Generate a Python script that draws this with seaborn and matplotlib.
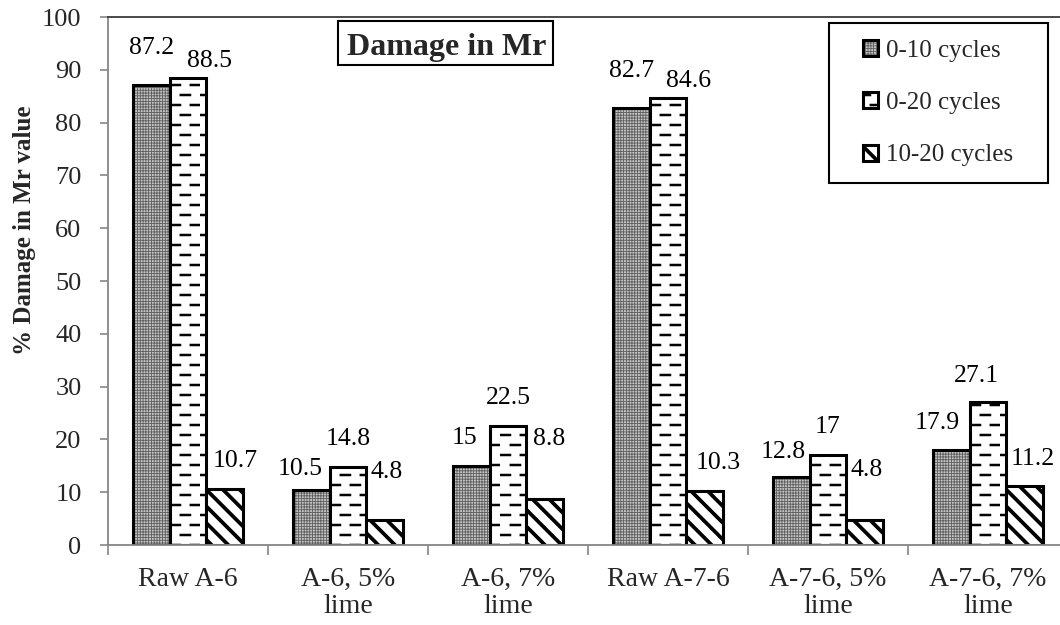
import warnings
import numpy as np
import pandas as pd
import matplotlib
matplotlib.use("Agg")
import matplotlib.pyplot as plt
from matplotlib import hatch as mhatch
from matplotlib.path import Path
from matplotlib.patches import Patch, Rectangle
from matplotlib.colors import to_rgba
import seaborn as sns

# ---- data ---------------------------------------------------------------
samples = ["Raw A-6", "A-6, 5%\nlime", "A-6, 7%\nlime",
           "Raw A-7-6", "A-7-6, 5%\nlime", "A-7-6, 7%\nlime"]
intervals = ["0-10 cycles", "0-20 cycles", "10-20 cycles"]
damage_0_10 = [87.2, 10.5, 15.0, 82.7, 12.8, 17.9]
damage_0_20 = [88.5, 14.8, 22.5, 84.6, 17.0, 27.1]
damage_10_20 = [10.7, 4.8, 8.8, 10.3, 4.8, 11.2]
value_text = {
    "0-10 cycles": ["87.2", "10.5", "15", "82.7", "12.8", "17.9"],
    "0-20 cycles": ["88.5", "14.8", "22.5", "84.6", "17", "27.1"],
    "10-20 cycles": ["10.7", "4.8", "8.8", "10.3", "4.8", "11.2"],
}
y_ticks = list(range(0, 101, 10))

# label placement: (dx, dy) in pixels of the label centre from the bar top
label_offsets = {
    "0-10 cycles": [(0, 37), (-11, 21), (-7, 28), (0, 37), (-8, 25), (-14, 27)],
    "0-20 cycles": [(21, 17), (0, 28), (0, 28), (21, 17), (0, 28), (-12, 26)],
    "10-20 cycles": [(10, 28), (2, 48), (4, 60), (13, 28), (2, 50), (8, 27)],
}

df = pd.DataFrame({
    "sample": samples * 3,
    "interval": [intervals[0]] * 6 + [intervals[1]] * 6 + [intervals[2]] * 6,
    "damage": damage_0_10 + damage_0_20 + damage_10_20,
})


# ---- staggered-dash hatch ('_') -----------------------------------------
class DashHatch(mhatch.HatchPatternBase):
    per_row = 5

    def __init__(self, hatch, density):
        self.num_rows = hatch.count("_") * 5
        self.num_vertices = self.num_rows * self.per_row * 2

    def set_vertices_and_codes(self, vertices, codes):
        period = 1.0 / self.per_row
        i = 0
        for r in range(self.num_rows):
            y = (r + 0.5) / self.num_rows
            shift = 0.5 * period * (r % 2)
            for k in range(self.per_row):
                x0 = k * period + shift + 0.04 * period
                x1 = x0 + 0.46 * period
                vertices[i] = (x0, y)
                vertices[i + 1] = (x1, y)
                codes[i] = Path.MOVETO
                codes[i + 1] = Path.LINETO
                i += 2


mhatch._hatch_types.append(DashHatch)
warnings.filterwarnings("ignore", message=".*hatch must consist.*")

# ---- styling ------------------------------------------------------------
sns.set_theme(style="white")
plt.rcParams["font.family"] = ["Liberation Serif", "DejaVu Serif"]
plt.rcParams["hatch.linewidth"] = 1.0

W, H = 1060, 625
fig = plt.figure(figsize=(W / 100, H / 100), dpi=100)
ax = fig.add_axes([108 / W, 1 - 545 / H, 960 / W, 528 / H])

face = {"0-10 cycles": "#c4c4c4", "0-20 cycles": "white", "10-20 cycles": "white"}
hatches = {"0-10 cycles": "++++++", "0-20 cycles": "__", "10-20 cycles": "\\\\"}
hatch_lw = {"0-10 cycles": 0.6, "0-20 cycles": 1.8, "10-20 cycles": 2.7}
hatch_col = {"0-10 cycles": "#5e5e5e", "0-20 cycles": "black", "10-20 cycles": "black"}

sns.barplot(data=df, x="sample", y="damage", hue="interval",
            order=samples, hue_order=intervals, palette=face,
            width=0.69, gap=0, saturation=1, errorbar=None,
            edgecolor="black", linewidth=2.2, legend=False, ax=ax)


def style_patch(p, name):
    p.set_hatch(hatches[name])
    if hasattr(p, "set_hatch_linewidth"):
        p.set_hatch_linewidth(hatch_lw[name])
    p._hatch_color = to_rgba(hatch_col[name])


for cont, name in zip(ax.containers, intervals):
    for j, p in enumerate(cont.patches):
        style_patch(p, name)
        xc = p.get_x() + p.get_width() / 2
        dx, dy = label_offsets[name][j]
        ax.annotate(value_text[name][j], xy=(xc, p.get_height()),
                    xytext=(dx * 0.72, dy * 0.72), textcoords="offset points",
                    ha="center", va="center", fontsize=18.5, color="black",
                    annotation_clip=False)

# ---- axes ---------------------------------------------------------------
ax.set_ylim(0, 100)
ax.set_yticks(y_ticks)
ax.set_xlim(-0.5, len(samples) - 0.5)
ax.set_xlabel("")
ax.set_ylabel("")
fig.text(25 / W, 1 - 230 / H, "% Damage in Mr value", fontsize=18,
         fontweight="bold", rotation=90, ha="center", va="center")

ax.tick_params(axis="y", which="major", direction="out", length=6, width=1.2,
               color="#868686", labelsize=19, pad=13, left=True)
ax.set_xticks(range(len(samples)))
ax.set_xticklabels(samples, fontsize=20, linespacing=1.1)
ax.tick_params(axis="x", which="major", length=0, pad=16)
ax.set_xticks(np.arange(-0.5, len(samples), 1.0), minor=True)
ax.tick_params(axis="x", which="minor", direction="out", length=7, width=1.2,
               color="#868686", bottom=True)

for side in ("left", "bottom"):
    ax.spines[side].set_color("#868686")
    ax.spines[side].set_linewidth(1.3)
ax.spines["top"].set_color("#3a3a3a")
ax.spines["top"].set_linewidth(1.3)
ax.spines["right"].set_visible(False)
ax.grid(False)

# title box inside the plot area
fig.add_artist(Rectangle((338 / W, 1 - 65 / H), 215 / W, 44 / H,
                         transform=fig.transFigure, facecolor="white",
                         edgecolor="black", linewidth=1.5, zorder=5))
fig.text(447 / W, 1 - 55 / H, "Damage in Mr", fontsize=23, fontweight="bold",
         ha="center", va="baseline", zorder=6)

# legend with a plain rectangular frame
fig.add_artist(Rectangle((829 / W, 1 - 183 / H), 219 / W, 160 / H,
                         transform=fig.transFigure, facecolor="white",
                         edgecolor="black", linewidth=1.5, zorder=5))
handles = [Patch(facecolor=face[n], edgecolor="black", linewidth=2.2,
                 hatch=hatches[n], label=n) for n in intervals]
leg = fig.legend(handles=handles, loc="center",
                 bbox_to_anchor=(938.5 / W, 1 - 103 / H), bbox_transform=fig.transFigure,
                 fontsize=18, frameon=False, borderpad=0,
                 labelspacing=1.22, handlelength=0.6, handleheight=0.6,
                 handletextpad=0.32, borderaxespad=0)
leg.set_zorder(7)
for lh, name in zip(leg.legend_handles, intervals):
    style_patch(lh, name)

fig.savefig("out.png", dpi=100)
